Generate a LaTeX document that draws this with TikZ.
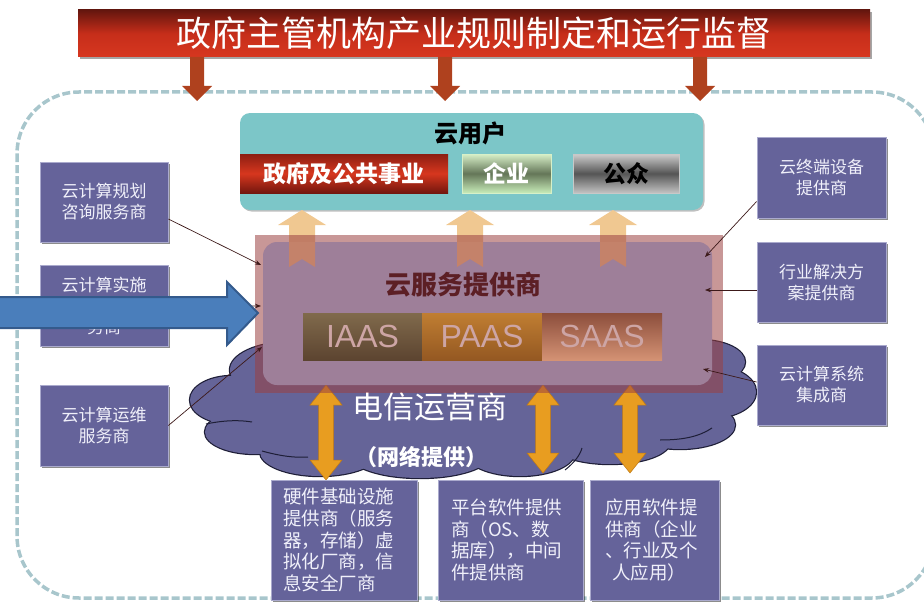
\documentclass[tikz,border=0pt]{standalone}
\usepackage{fontspec}
\newfontfamily\cjk{Noto Sans CJK SC}
\newfontfamily\lsans{Liberation Sans}
\usetikzlibrary{arrows.meta,shadows}
\definecolor{boxpurple}{RGB}{101,99,154}
\definecolor{boxedge}{RGB}{170,170,205}
\definecolor{boxtext}{RGB}{240,240,250}
\definecolor{cloudfill}{RGB}{101,100,152}
\definecolor{cloudedge}{RGB}{30,30,55}
\definecolor{dashcol}{RGB}{168,198,204}
\definecolor{downarrow}{RGB}{175,65,30}
\definecolor{teal}{RGB}{124,198,200}
\definecolor{pinkrect}{RGB}{155,65,65}
\definecolor{innerrect}{RGB}{158,127,153}
\definecolor{peach}{RGB}{240,200,145}
\definecolor{peachdark}{RGB}{196,130,106}
\definecolor{orangearrow}{RGB}{232,157,32}
\definecolor{orangeedge}{RGB}{190,120,20}
\definecolor{bluearrow}{RGB}{74,126,187}
\definecolor{blueedge}{RGB}{52,90,140}
\definecolor{conncol}{RGB}{60,25,25}
\definecolor{sptextcol}{RGB}{92,31,37}
\definecolor{aascol}{RGB}{205,165,165}
\tikzset{
  sidebox/.style={fill=boxpurple, draw=boxedge, line width=0.8pt, minimum width=128pt, minimum height=80pt,
    inner sep=0pt, text=boxtext, align=center, font=\cjk\fontsize{17}{21}\selectfont,
    drop shadow={shadow xshift=2pt, shadow yshift=-2pt, fill=black, opacity=0.45}},
  bottombox/.style={fill=boxpurple, draw=boxedge, line width=0.8pt, minimum height=120pt,
    inner ysep=0pt, text=boxtext, align=left, font=\cjk\fontsize{18.5}{21.7}\selectfont,
    drop shadow={shadow xshift=2pt, shadow yshift=-2pt, fill=black, opacity=0.45}},
  userbox/.style={minimum height=39pt, inner sep=0pt, font=\cjk\bfseries\fontsize{23}{26}\selectfont},
  aasbox/.style={minimum height=47pt, inner sep=0pt, text=aascol, font=\lsans\fontsize{32}{36}\selectfont},
  conn/.style={draw=conncol, line width=0.7pt, -{Stealth[length=6pt,width=4.5pt]}},
  cloudline/.style={draw=cloudedge, line width=2.4pt},
}
\begin{document}
\begin{tikzpicture}[x=1pt,y=-1pt]
\useasboundingbox (0,0) rectangle (924,602);
% dashed border
\draw[line width=3.5pt, draw=dashcol, dash pattern=on 8pt off 3pt, rounded corners=62pt] (17,92) rectangle (934,598);
% banner
\node[minimum width=792pt, minimum height=47pt, inner sep=0pt,
  top color={rgb,255:red,100;green,22;blue,14}, bottom color={rgb,255:red,215;green,55;blue,32},
  middle color={rgb,255:red,198;green,46;blue,26},
  drop shadow={shadow xshift=2pt, shadow yshift=-2pt, fill=black, opacity=0.35},
  text=white, font=\cjk\fontsize{35}{38}\selectfont]
  (banner) at (474,33.5) {政府主管机构产业规则制定和运行监督};
\foreach \c in {197,445,700}
  \fill[downarrow] ({\c-7},57) -- ({\c-7},86) -- ({\c-15},86) -- (\c,101) -- ({\c+15},86) -- ({\c+7},86) -- ({\c+7},57) -- cycle;
% users
\node[fill=teal, rounded corners=10pt, minimum width=463pt, minimum height=97pt, inner sep=0pt,
  drop shadow={shadow xshift=1.5pt, shadow yshift=-1.5pt, fill=black, opacity=0.25}] (users) at (471.5,161.5) {};
\node[font=\cjk\bfseries\fontsize{24}{28}\selectfont, text=black] (userstitle) at (470,133) {云用户};
\node[userbox, minimum width=208pt, text=white,
  top color={rgb,255:red,140;green,30;blue,18}, bottom color={rgb,255:red,115;green,22;blue,14},
  middle color={rgb,255:red,215;green,55;blue,30}] (gov) at (344,173.5) {政府及公共事业};
\node[userbox, minimum width=89pt, text=white, draw={rgb,255:red,215;green,240;blue,200}, line width=0.6pt,
  top color={rgb,255:red,215;green,240;blue,200}, bottom color={rgb,255:red,200;green,236;blue,185},
  middle color={rgb,255:red,100;green,118;blue,88}] (ent) at (506.5,173.5) {企业};
\node[userbox, minimum width=106pt, text=black, draw={rgb,255:red,200;green,200;blue,200}, line width=0.6pt,
  top color={rgb,255:red,205;green,205;blue,205}, bottom color={rgb,255:red,195;green,195;blue,195},
  middle color={rgb,255:red,85;green,85;blue,85}] (pub) at (626,173.5) {公众};
% peach up arrows (full)
\foreach \c in {302,470,613}
  \fill[peach] ({\c-13},267) -- ({\c-13},225) -- ({\c-24},225) -- (\c,210) -- ({\c+24},225) -- ({\c+13},225) -- ({\c+13},267) -- (\c,259) -- cycle;
% cloud
\foreach \cx/\cy/\rx/\ry in {232/400/42pt/24pt, 255/432/50pt/22pt, 320/452/60pt/24pt, 420/455/70pt/23pt,
  520/452/55pt/24pt, 610/442/60pt/22pt, 680/425/55pt/24pt, 712/392/44pt/26pt, 700/362/45pt/22pt,
  290/370/60pt/28pt, 470/400/230pt/55pt}
  \draw[cloudline] (\cx,\cy) ellipse [x radius=\rx, y radius=\ry];
\foreach \cx/\cy/\rx/\ry in {232/400/42pt/24pt, 255/432/50pt/22pt, 320/452/60pt/24pt, 420/455/70pt/23pt,
  520/452/55pt/24pt, 610/442/60pt/22pt, 680/425/55pt/24pt, 712/392/44pt/26pt, 700/362/45pt/22pt,
  290/370/60pt/28pt, 470/400/230pt/55pt}
  \fill[cloudfill] (\cx,\cy) ellipse [x radius=\rx, y radius=\ry];
% a few inner cloud creases
\draw[cloudedge, line width=1pt] (206,424) .. controls (225,420) and (240,420) .. (252,422);
\draw[cloudedge, line width=1pt] (262,451) .. controls (280,456) and (295,458) .. (308,457);
\draw[cloudedge, line width=1pt] (565,470) .. controls (575,462) and (580,455) .. (582,448);
\draw[cloudedge, line width=1pt] (660,440) .. controls (685,440) and (700,436) .. (712,428);
% orange double arrows
\foreach \c/\b in {326/480,543/473,630/473}
  \filldraw[fill=orangearrow, draw=orangeedge, line width=0.5pt]
    (\c,385) -- ({\c+16},405) -- ({\c+7.5},405) -- ({\c+7.5},{\b-20}) -- ({\c+16},{\b-20}) -- (\c,\b)
    -- ({\c-16},{\b-20}) -- ({\c-7.5},{\b-20}) -- ({\c-7.5},405) -- ({\c-16},405) -- cycle;
\node[text=white, font=\cjk\fontsize{31}{34}\selectfont] (tel) at (430,407) {电信运营商};
\node[text=white, font=\cjk\bfseries\fontsize{22}{26}\selectfont] (net) at (421,457) {（网络提供）};
% service provider
\fill[pinkrect, fill opacity=0.55] (255,235) rectangle (723,393);
\node[fill=innerrect, rounded corners=14pt, minimum width=449pt, minimum height=143pt, inner sep=0pt] (sp) at (487.5,313.5) {};
\begin{scope}
  \clip (263,242) rectangle (712,385);
  \foreach \c in {302,470,613}
    \fill[peachdark] ({\c-13},267) -- ({\c-13},225) -- ({\c-24},225) -- (\c,210) -- ({\c+24},225) -- ({\c+13},225) -- ({\c+13},267) -- (\c,259) -- cycle;
\end{scope}
\node[text=sptextcol, font=\cjk\bfseries\fontsize{26}{30}\selectfont] (sptitle) at (463,285) {云服务提供商};
\node[aasbox, minimum width=119pt, top color={rgb,255:red,128;green,106;blue,76}, bottom color={rgb,255:red,92;green,68;blue,48}] (iaas) at (362.5,336.5) {IAAS};
\node[aasbox, minimum width=120pt, top color={rgb,255:red,192;green,126;blue,50}, bottom color={rgb,255:red,148;green,88;blue,34}] (paas) at (482,336.5) {PAAS};
\node[aasbox, minimum width=120pt, top color={rgb,255:red,140;green,78;blue,60}, bottom color={rgb,255:red,212;green,146;blue,116}] (saas) at (602,336.5) {SAAS};
% side boxes
\node[sidebox] (lb1) at (104,202) {云计算规划\\咨询服务商};
\node[sidebox, minimum height=81pt] (lb2) at (104,305.5) {云计算实施\\与系统集成服\\务商};
\node[sidebox, minimum height=81pt] (lb3) at (104,425.5) {云计算运维\\服务商};
\node[sidebox, minimum width=129pt, minimum height=81pt] (rb1) at (821.5,177.5) {云终端设备\\提供商};
\node[sidebox, minimum width=129pt] (rb2) at (821.5,282) {行业解决方\\案提供商};
\node[sidebox, minimum width=129pt] (rb3) at (821.5,385) {云计算系统\\集成商};
% bottom boxes
\node[bottombox, minimum width=146pt, text width=122pt, inner xsep=12pt] (bb1) at (344,540)
  {硬件基础设施\\提供商（服务\\器，存储）虚\\拟化厂商，信\\息安全厂商};
\node[bottombox, minimum width=145pt, text width=119pt, inner xsep=13pt] (bb2) at (510.5,540)
  {平台软件提供\\商（OS、数\\据库），中间\\件提供商};
\node[bottombox, minimum width=129pt, text width=99pt, inner xsep=15pt] (bb3) at (654.5,540)
  {应用软件提\\供商（企业\\、行业及个\\\hspace*{0.4em}人应用）};
% connectors
\coordinate (spl1) at (261,265);
\coordinate (spl2) at (261,306);
\coordinate (spl3) at (262,347);
\coordinate (spr1) at (705,257);
\coordinate (spr2) at (705,290);
\coordinate (spr3) at (703,369);
\draw[conn] ([yshift=-17pt]lb1.east) -- (spl1);
\draw[conn] (lb2.east) -- (spl2);
\draw[conn] (lb3.east) -- (spl3);
\draw[conn] ([yshift=-24pt]rb1.west) -- (spr1);
\draw[conn] ([yshift=-8pt]rb2.west) -- (spr2);
\draw[conn] ([yshift=3pt]rb3.west) -- (spr3);
% blue arrow
\filldraw[fill=bluearrow, draw=blueedge, line width=2pt, line join=miter]
  (-5,297) -- (227,297) -- (227,282) -- (258,313) -- (227,345) -- (227,328) -- (-5,328) -- cycle;
\end{tikzpicture}
\end{document}
